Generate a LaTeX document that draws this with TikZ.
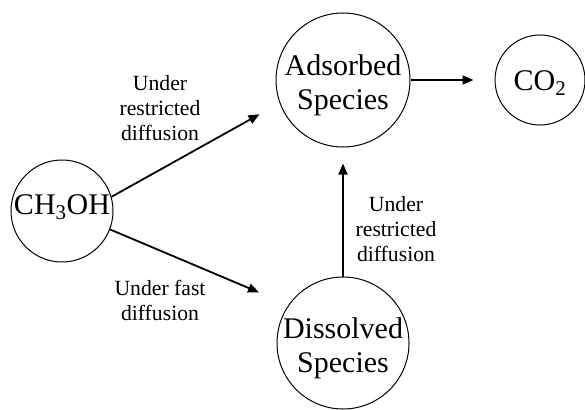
\documentclass[tikz,border=0pt]{standalone}
\usepackage{fontspec}
\setmainfont{Liberation Serif}
\usetikzlibrary{arrows.meta}
\begin{document}
\begin{tikzpicture}[x=1pt,y=-1pt,
  species/.style={draw, circle, line width=1pt, inner sep=0pt},
  spname/.style={font=\fontsize{30}{33.5}\selectfont, align=center, inner sep=0pt, anchor=north},
  cond/.style={font=\fontsize{21.7}{25}\selectfont, align=center, inner sep=0pt, anchor=north},
  flow/.style={line width=1.8pt, -{Triangle[length=11pt,width=9pt]}}]
\useasboundingbox (0,0) rectangle (585,409);
% circles
\node[species, minimum size=102pt] (ch) at (62,211) {};
\node[species, minimum size=134pt] (ad) at (343,80) {};
\node[species, minimum size=90pt] (co) at (540,80) {};
\node[species, minimum size=132pt] (dis) at (343,343) {};
% names
\node[spname] (cht) at (62,194) {CH\textsubscript{3}OH};
\node[spname] (adt) at (343,54.5) {Adsorbed\\Species};
\node[spname] (cot) at (540,70) {CO\textsubscript{2}};
\node[spname] (dist) at (343,317.5) {Dissolved\\Species};
% arrows
\draw[flow, shorten >=23pt] (ch.16) -- (ad.200);
\draw[flow, shorten >=32pt] (ch.-21) -- (dis.145.6);
\draw[flow, shorten >=16pt] (dis.north) -- (ad.south);
\draw[flow, shorten >=21pt] (ad.east) -- (co.west);
% conditions
\node[cond] (c1) at (160,75) {Under\\restricted\\diffusion};
\node[cond] (c2) at (160,280) {Under fast\\diffusion};
\node[cond] (c3) at (396,196) {Under\\restricted\\diffusion};
\end{tikzpicture}
\end{document}
